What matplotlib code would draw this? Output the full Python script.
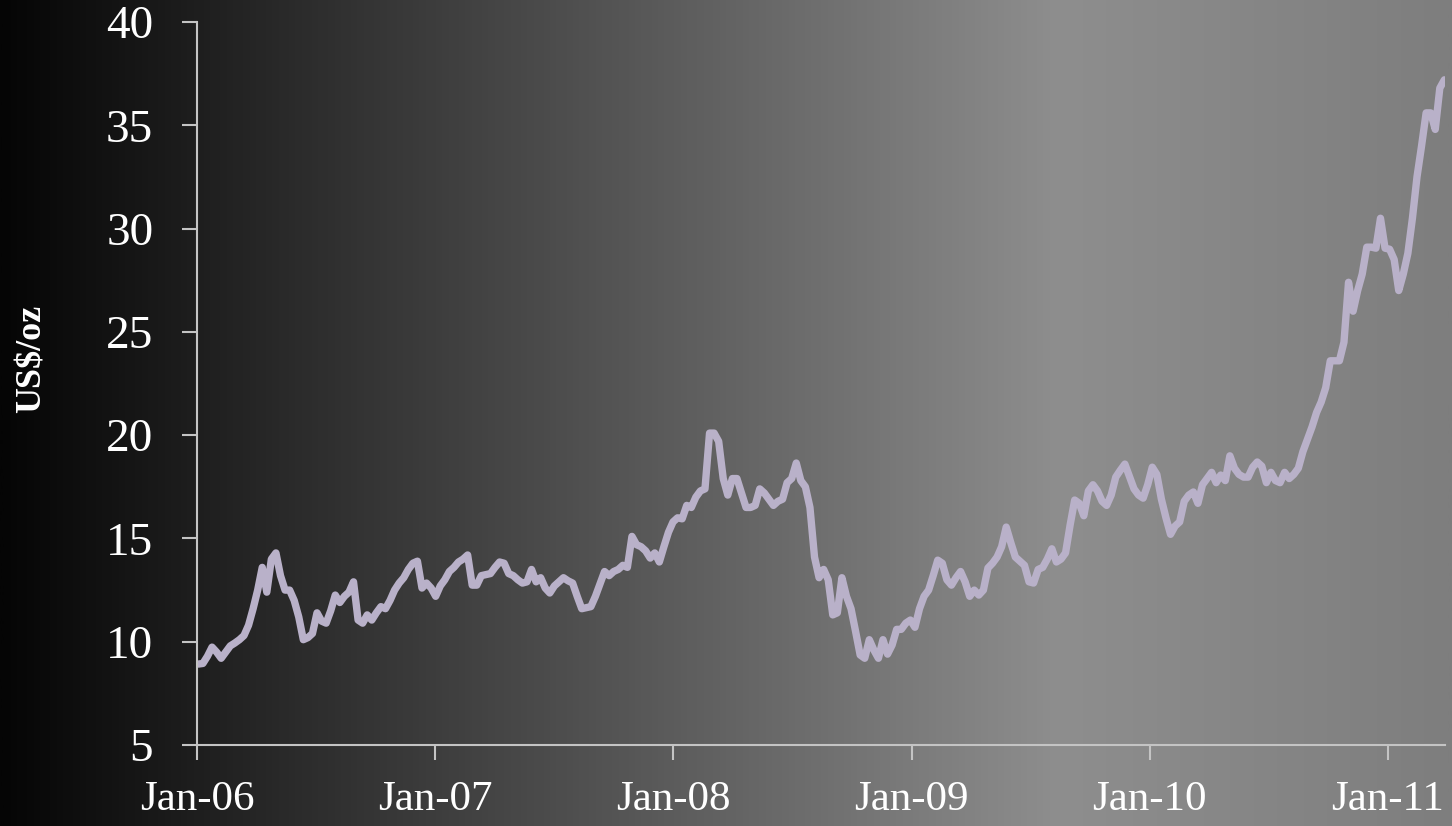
import numpy as np
import pandas as pd
import matplotlib
matplotlib.use("Agg")
import matplotlib.pyplot as plt
from matplotlib.colors import LinearSegmentedColormap

# weekly silver price, US$/oz
start_date = "2006-01-03"
prices = [
    8.92, 8.95, 9.3, 9.74, 9.5, 9.2, 9.5, 9.8, 9.94, 10.1,
    10.3, 10.8, 11.6, 12.5, 13.6, 12.4, 14.0, 14.3, 13.2, 12.5,
    12.5, 12.0, 11.2, 10.1, 10.2, 10.4, 11.4, 11.0, 10.9, 11.5,
    12.26, 11.9, 12.2, 12.4, 12.9, 11.05, 10.9, 11.3, 11.05, 11.4,
    11.7, 11.6, 12.0, 12.5, 12.84, 13.1, 13.5, 13.8, 13.9, 12.6,
    12.84, 12.6, 12.2, 12.7, 13.0, 13.4, 13.6, 13.86, 14.0, 14.2,
    12.74, 12.74, 13.2, 13.25, 13.3, 13.6, 13.86, 13.8, 13.3, 13.2,
    13.0, 12.84, 12.9, 13.5, 12.9, 13.1, 12.6, 12.36, 12.7, 12.9,
    13.1, 12.95, 12.84, 12.2, 11.6, 11.65, 11.7, 12.2, 12.8, 13.4,
    13.2, 13.4, 13.5, 13.7, 13.6, 15.1, 14.7, 14.6, 14.4, 14.05,
    14.3, 13.86, 14.6, 15.3, 15.8, 16.0, 15.95, 16.6, 16.5, 17.0,
    17.3, 17.4, 20.1, 20.1, 19.7, 17.9, 17.1, 17.9, 17.9, 17.2,
    16.5, 16.5, 16.6, 17.4, 17.2, 16.9, 16.6, 16.8, 16.9, 17.7,
    17.9, 18.65, 17.8, 17.5, 16.5, 14.1, 13.1, 13.5, 13.0, 11.3,
    11.4, 13.1, 12.2, 11.6, 10.5, 9.36, 9.2, 10.1, 9.6, 9.2,
    10.1, 9.4, 9.84, 10.6, 10.6, 10.9, 11.05, 10.7, 11.6, 12.2,
    12.5, 13.2, 13.95, 13.8, 13.0, 12.74, 13.1, 13.4, 12.9, 12.2,
    12.5, 12.26, 12.5, 13.57, 13.8, 14.1, 14.6, 15.55, 14.8, 14.1,
    13.9, 13.7, 12.9, 12.84, 13.5, 13.6, 14.0, 14.5, 13.86, 14.0,
    14.3, 15.65, 16.86, 16.7, 16.1, 17.3, 17.6, 17.3, 16.8, 16.6,
    17.1, 17.97, 18.3, 18.6, 18.0, 17.4, 17.1, 16.95, 17.6, 18.45,
    18.1, 16.9, 16.0, 15.2, 15.6, 15.8, 16.8, 17.1, 17.25, 16.7,
    17.6, 17.9, 18.2, 17.7, 18.07, 17.8, 19.0, 18.4, 18.1, 17.97,
    17.97, 18.45, 18.7, 18.5, 17.7, 18.2, 17.8, 17.7, 18.2, 17.9,
    18.1, 18.4, 19.2, 19.8, 20.4, 21.1, 21.6, 22.3, 23.6, 23.6,
    23.6, 24.5, 27.4, 26.0, 27.0, 27.8, 29.1, 29.1, 29.05, 30.5,
    29.05, 29.0, 28.5, 27.0, 27.8, 28.8, 30.5, 32.5, 34.0, 35.6,
    35.6, 34.8, 36.8, 37.2,
]
dates = pd.date_range(start_date, periods=len(prices), freq="7D")

tick_dates = ["2006-01-01", "2007-01-01", "2008-01-01", "2009-01-01", "2010-01-01", "2011-01-01"]
tick_labels = ["Jan-06", "Jan-07", "Jan-08", "Jan-09", "Jan-10", "Jan-11"]
y_ticks = [5, 10, 15, 20, 25, 30, 35, 40]

fig = plt.figure(figsize=(14.52, 8.26), dpi=100)

# gradient background
bg = fig.add_axes([0, 0, 1, 1], zorder=0)
cmap = LinearSegmentedColormap.from_list("bg", [(0, "#050505"), (0.73, "#8e8e8e"), (1, "#7e7e7e")])
bg.imshow(np.linspace(0, 1, 512).reshape(1, -1), aspect="auto", cmap=cmap, extent=[0, 1, 0, 1])
bg.axis("off")

ax = fig.add_axes([0.1357, 0.098, 0.8595, 0.8754], zorder=1)
ax.patch.set_alpha(0)
ax.plot(dates, prices, color="#b9b1c9", linewidth=5.3, solid_joinstyle="round", solid_capstyle="round")

ax.set_ylim(5, 40)
ax.set_xlim(pd.Timestamp("2006-01-01"), pd.Timestamp("2011-03-30"))
ax.set_yticks(y_ticks)
ax.set_xticks(pd.to_datetime(tick_dates))
ax.set_xticklabels(tick_labels)

axcol = "#c4c4c4"
for s in ["top", "right"]:
    ax.spines[s].set_visible(False)
for s in ["left", "bottom"]:
    ax.spines[s].set_color(axcol)
    ax.spines[s].set_linewidth(1.5)
ax.tick_params(axis="y", direction="out", length=10.5, width=1.5, color=axcol, pad=21, labelcolor="white", labelsize=34)
ax.tick_params(axis="x", direction="out", length=10.5, width=1.5, color=axcol, pad=15, labelcolor="white", labelsize=31)
for lab in ax.get_xticklabels() + ax.get_yticklabels():
    lab.set_fontfamily("Liberation Serif")

fig.text(0.022, 0.565, "US$/oz", rotation=90, color="white", fontsize=26, fontweight="bold",
         family="Liberation Serif", ha="center", va="center")

fig.savefig("out.png", dpi=100)
